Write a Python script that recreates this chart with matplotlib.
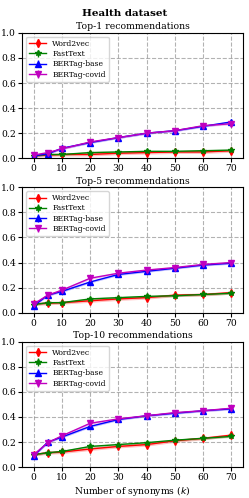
import matplotlib
matplotlib.use("Agg")
import matplotlib.pyplot as plt
import numpy as np

matplotlib.rcParams.update({'font.size': 6.7, 'font.family': 'DejaVu Serif'})

k_values = [0, 5, 10, 20, 30, 40, 50, 60, 70]
models = ["Word2vec", "FastText", "BERTag-base", "BERTag-covid"]
colors = ["red", "green", "blue", "m"]
markers = ["d", "*", "^", "v"]
titles = ["Top-1 recommendations", "Top-5 recommendations", "Top-10 recommendations"]

top1 = [
    [0.02, 0.025, 0.03, 0.03, 0.04, 0.045, 0.05, 0.05, 0.06],
    [0.02, 0.03, 0.03, 0.045, 0.05, 0.055, 0.055, 0.06, 0.065],
    [0.02, 0.035, 0.08, 0.125, 0.165, 0.20, 0.22, 0.255, 0.29],
    [0.025, 0.045, 0.075, 0.13, 0.165, 0.20, 0.22, 0.26, 0.275],
]
top5 = [
    [0.07, 0.075, 0.08, 0.095, 0.11, 0.12, 0.14, 0.145, 0.16],
    [0.065, 0.08, 0.08, 0.11, 0.12, 0.13, 0.135, 0.145, 0.155],
    [0.055, 0.14, 0.17, 0.245, 0.305, 0.33, 0.355, 0.38, 0.395],
    [0.07, 0.14, 0.18, 0.275, 0.315, 0.34, 0.36, 0.385, 0.40],
]
top10 = [
    [0.10, 0.115, 0.12, 0.145, 0.165, 0.18, 0.21, 0.23, 0.255],
    [0.10, 0.115, 0.125, 0.165, 0.18, 0.195, 0.215, 0.23, 0.245],
    [0.09, 0.20, 0.24, 0.325, 0.38, 0.41, 0.43, 0.45, 0.465],
    [0.10, 0.195, 0.25, 0.35, 0.385, 0.41, 0.435, 0.45, 0.47],
]
# rough spread per model (error bars / shaded band)
spread = [0.012, 0.008, 0.008, 0.008]

fig, axes = plt.subplots(3, 1, figsize=(2.49, 4.98), dpi=100)
fig.subplots_adjust(left=0.09, right=0.975, top=0.934, bottom=0.062, hspace=0.232)
fig.suptitle("Health dataset", fontweight="bold", fontsize=7.5, y=0.972, va="center")

for ax, title, data in zip(axes, titles, [top1, top5, top10]):
    for vals, name, c, m, s in zip(data, models, colors, markers, spread):
        vals = np.array(vals)
        ax.errorbar(k_values, vals, yerr=s, color=c, marker=m, markersize=4,
                    linewidth=1, elinewidth=1, label=name)
        ax.fill_between(k_values, vals - s, vals + s, color=c, alpha=0.25, linewidth=0)
    ax.set_title(title, fontsize=6.7, pad=2.5)
    ax.set_ylim(0, 1.0)
    ax.set_xlim(-4, 74)
    ax.set_xticks([0, 10, 20, 30, 40, 50, 60, 70])
    ax.set_yticks([0, 0.2, 0.4, 0.6, 0.8, 1.0])
    ax.grid(True, linestyle="--", color="gray", alpha=0.6, linewidth=0.8)
    ax.tick_params(labelsize=6.7, pad=1.5, length=3)
    ax.legend(loc="upper left", fontsize=5.5, handlelength=2.2, borderpad=0.4,
              labelspacing=0.3, framealpha=0.8)

axes[2].set_xlabel("Number of synonyms ($k$)", fontsize=6.7, labelpad=1)

plt.savefig("out.png", dpi=100)
